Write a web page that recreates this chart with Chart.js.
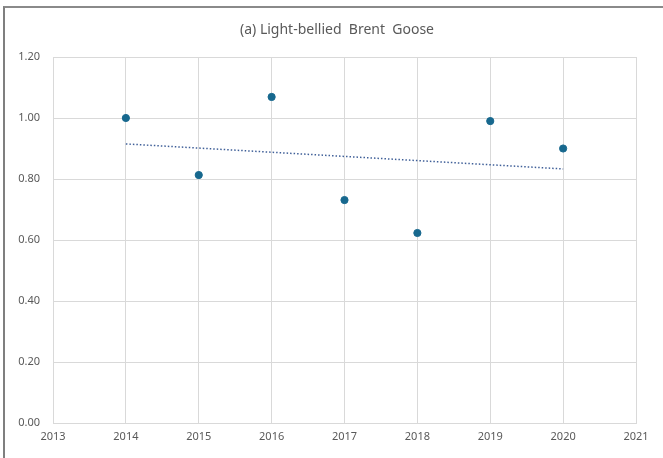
<!DOCTYPE html>
<html>
<head>
<meta charset="utf-8">
<script src="https://cdn.jsdelivr.net/npm/chart.js@4/dist/chart.umd.min.js"></script>
<style>
  html, body { margin: 0; padding: 0; background: #fff; }
  #wrap { position: relative; width: 663px; height: 458px; }
  #frame { position: absolute; left: 3px; top: 6px; right: -4px; bottom: -4px;
           border-left: 2px solid #7f7f7f; border-top: 2px solid #8a8a8a; }
  canvas { position: absolute; left: 0; top: 0; }
</style>
</head>
<body>
<div id="wrap">
  <div id="frame"></div>
  <canvas id="c" width="663" height="458"></canvas>
</div>
<script>
// Survey years and the ratio recorded in each
const years = [2014, 2015, 2016, 2017, 2018, 2019, 2020];
const ratios = [1.00, 0.813, 1.069, 0.731, 0.623, 0.99, 0.90];

// Linear trend, start and end values
const trendYears = [2014, 2020];
const trendValues = [0.915, 0.833];

// Axis ranges
const xRange = [2013, 2021];
const yRange = [0, 1.2];

const titleText = '(a) Light-bellied  Brent  Goose';

const grey = '#595959';
const gridColor = '#d9d9d9';
const family = "'Noto Sans', 'Open Sans', sans-serif";
const font = { family: family, size: 11 };

// Title centred over the whole frame rather than the padded chart box
const frameTitle = {
  id: 'frameTitle',
  afterDraw(chart) {
    const ctx = chart.ctx;
    ctx.save();
    ctx.font = '14px ' + family;
    ctx.fillStyle = grey;
    ctx.textAlign = 'center';
    ctx.textBaseline = 'middle';
    ctx.fillText(titleText, 337, 30);
    ctx.restore();
  }
};

new Chart(document.getElementById('c'), {
  type: 'scatter',
  data: {
    datasets: [
      {
        label: 'Ratio',
        data: years.map((y, i) => ({ x: y, y: ratios[i] })),
        backgroundColor: '#17688e',
        borderColor: '#17688e',
        pointRadius: 3.6,
        pointHoverRadius: 3.6,
        order: 1
      },
      {
        label: 'Trend',
        type: 'line',
        data: trendYears.map((y, i) => ({ x: y, y: trendValues[i] })),
        borderColor: '#3f5f98',
        borderWidth: 1.5,
        borderDash: [1.5, 2],
        pointRadius: 0,
        fill: false,
        order: 2
      }
    ]
  },
  options: {
    responsive: false,
    animation: false,
    events: [],
    layout: { padding: { left: 0, right: 27, top: 57, bottom: 0 } },
    plugins: {
      legend: { display: false },
      tooltip: { enabled: false },
      title: { display: false }
    },
    scales: {
      x: {
        type: 'linear',
        min: xRange[0],
        max: xRange[1],
        ticks: { stepSize: 1, color: grey, font: font, padding: 7,
                 callback: v => String(v) },
        grid: { color: gridColor, drawTicks: false },
        border: { color: gridColor },
        afterFit: s => { s.height = 35; }
      },
      y: {
        min: yRange[0],
        max: yRange[1],
        ticks: { stepSize: 0.2, color: grey, font: font, padding: 13,
                 callback: v => Number(v).toFixed(2) },
        grid: { color: gridColor, drawTicks: false },
        border: { color: gridColor },
        afterFit: s => { s.width = 53; }
      }
    }
  },
  plugins: [frameTitle]
});
</script>
</body>
</html>
